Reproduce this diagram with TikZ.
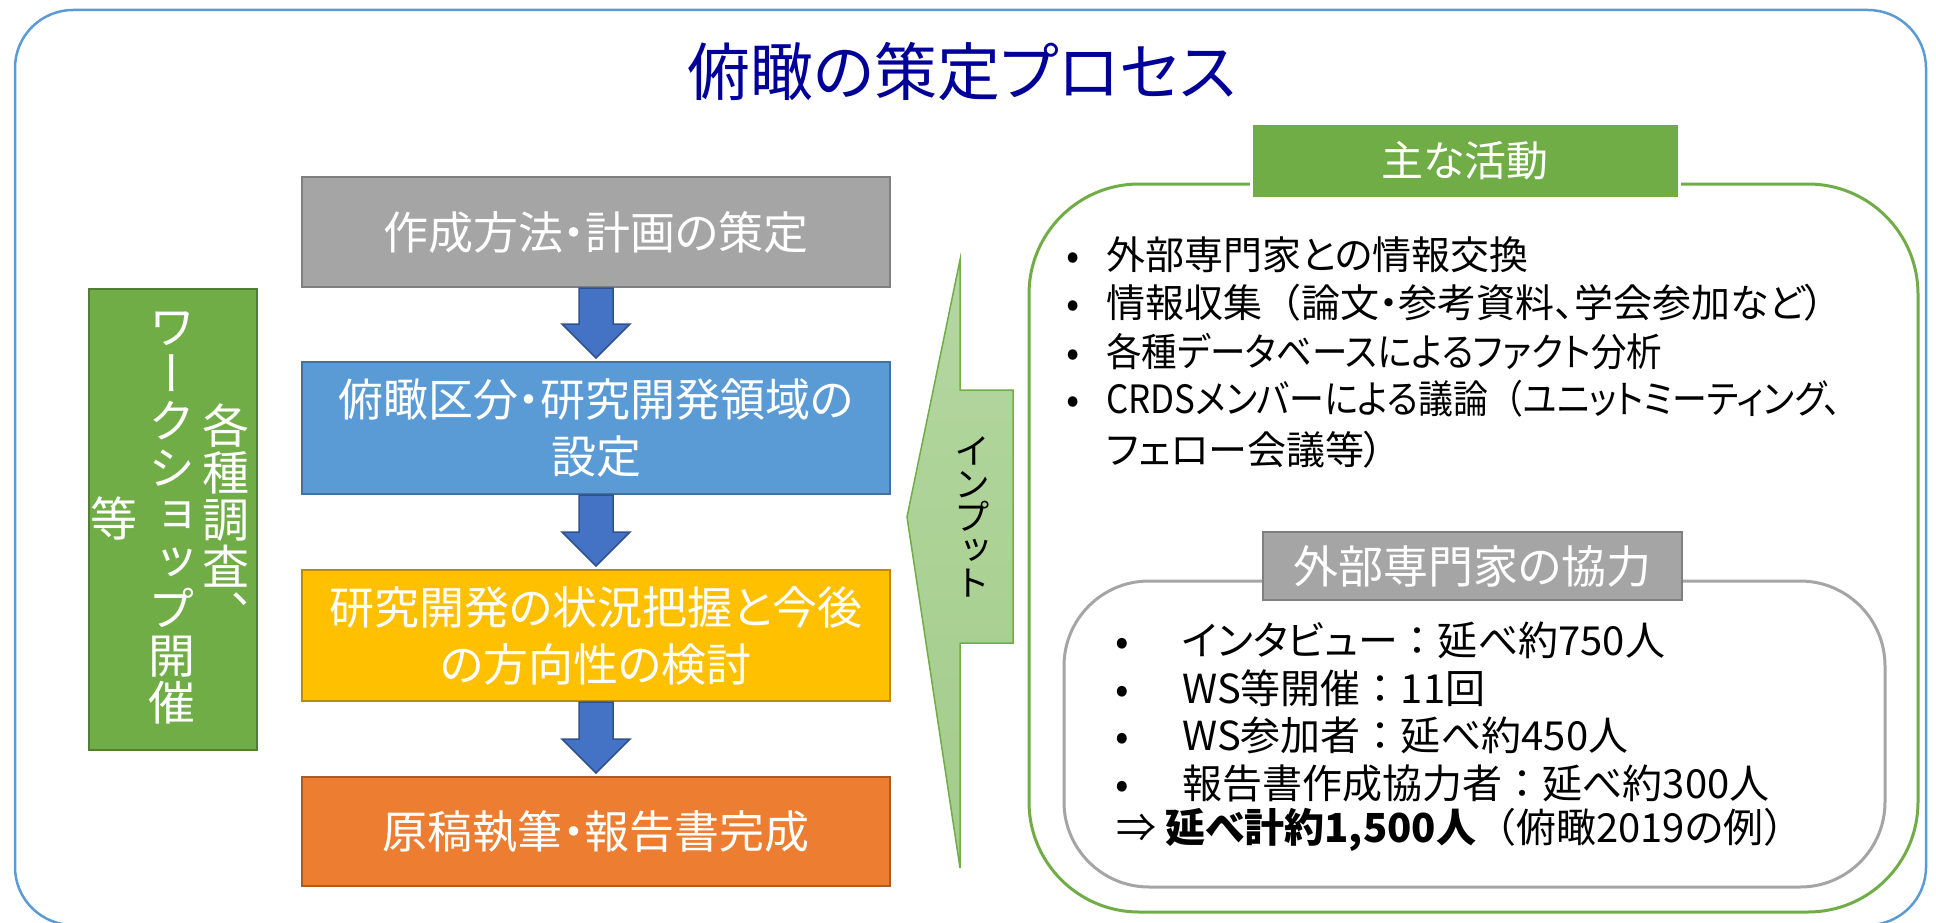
\documentclass[tikz,border=0pt]{standalone}
\usepackage{fontspec}
\usepackage{graphicx}
\setmainfont{Noto Sans CJK JP}[RawFeature=+palt]
\newfontfamily\jpv{Noto Sans CJK JP}[RawFeature=+vert]
\newfontfamily\jpf{Noto Sans CJK JP}
\usetikzlibrary{calc}
\definecolor{titleblue}{RGB}{0,0,153}
\definecolor{frameblue}{RGB}{91,155,213}
\definecolor{grayfill}{RGB}{165,165,165}
\definecolor{grayline}{RGB}{127,127,127}
\definecolor{bfill}{RGB}{91,155,213}
\definecolor{bline}{RGB}{65,113,156}
\definecolor{yfill}{RGB}{255,192,0}
\definecolor{yline}{RGB}{188,140,0}
\definecolor{ofill}{RGB}{237,125,49}
\definecolor{oline}{RGB}{174,90,33}
\definecolor{arrowblue}{RGB}{68,114,196}
\definecolor{arrowline}{RGB}{47,82,143}
\definecolor{mgreen}{RGB}{112,173,71}
\definecolor{dgreen}{RGB}{80,126,50}
\definecolor{intop}{RGB}{180,215,160}
\definecolor{inbot}{RGB}{163,204,139}
\protected\def\vfix{\lineskiplimit=-50pt\relax}
\newcommand\dotat[1]{\llap{\makebox[0pt]{•}\hspace{#1}}}
\newcommand\flowarrow[2]{%
  \path[barrow] let \p1=(#1.south), \p2=(#2.north) in
   (\x1-17pt,\y1) -- (\x1+17pt,\y1) -- (\x1+17pt,\y2+37pt) -- (\x1+34pt,\y2+37pt)
   -- (\x1,\y2+3pt) -- (\x1-34pt,\y2+37pt) -- (\x1-17pt,\y2+37pt) -- cycle;}
\tikzset{
  flowbox/.style={draw, line width=2pt, minimum width=588pt, text=white, align=center,
    inner sep=0pt, font=\fontsize{45}{57}\selectfont},
  barrow/.style={fill=arrowblue, draw=arrowline, line width=1.5pt, line join=miter},
  vt/.style={inner sep=0pt, align=center, text=white,
    font=\jpv\fontsize{47}{47}\selectfont\vfix},
  li/.style={inner sep=0pt, anchor=west, font=\fontsize{39}{45}\selectfont},
  lg/.style={inner sep=0pt, anchor=west, font=\fontsize{40}{45}\selectfont},
  tagbox/.style={text=white, inner sep=0pt},
}
\begin{document}
\begin{tikzpicture}[x=1pt,y=-1pt]
\useasboundingbox (0,0) rectangle (1936,923);
\fill[white] (0,0) rectangle (1936,923);
\draw[frameblue, line width=2.5pt, rounded corners=58pt] (15,10) rectangle (1926,925);

\node[font=\fontsize{63}{70}\selectfont, text=titleblue, inner sep=0pt] (title) at (962,72) {俯瞰の策定プロセス};

% flow
\node[flowbox, fill=grayfill, draw=grayline, minimum height=110pt] (s1) at (596,232) {作成方法・計画の策定};
\node[flowbox, fill=bfill, draw=bline, minimum height=132pt] (s2) at (596,428) {俯瞰区分・研究開発領域の\\設定};
\node[flowbox, fill=yfill, draw=yline, minimum height=131pt] (s3) at (596,635.5) {研究開発の状況把握と今後\\の方向性の検討};
\node[flowbox, fill=ofill, draw=oline, minimum height=109pt] (s4) at (596,831.5) {原稿執筆・報告書完成};
\flowarrow{s1}{s2}
\flowarrow{s2}{s3}
\flowarrow{s3}{s4}

% left green box
\node[fill=mgreen, draw=dgreen, line width=2pt, minimum width=168pt, minimum height=461pt] (ws) at (173,519.5) {};
\node[vt] (wc1) at (226,518) {各\\種\\調\\査\\、};
\node[vt] (wc2) at (172,518) {ワ\\ー\\ク\\シ\\ョ\\ッ\\プ\\開\\催};
\node[vt] (wc3) at (114,518) {等};

% input callout
\path[draw=mgreen, line width=1.5pt, top color=intop, bottom color=inbot]
  (960,260) -- (960,390) -- (1013,390) -- (1013,643) -- (960,643) -- (960,868) -- (907,517) -- cycle;
\node[inner sep=0pt, align=center, font=\jpv\fontsize{36}{33}\selectfont\vfix] (inp) at (972,517) {イ\\ン\\プ\\ッ\\ト};

% main activities
\draw[mgreen, line width=3pt, rounded corners=110pt] (1029,184) rectangle (1918,912);
\node[tagbox, fill=mgreen, draw=white, line width=3pt, minimum width=428pt, minimum height=74pt,
  font=\fontsize{42}{50}\selectfont] (act) at (1465,161) {主な活動};
\node[li] (a1) at (1106,255) {\dotat{33pt}外部専門家との情報交換};
\node[li] (a2) at (1106,303) {\dotat{33pt}情報収集{\jpf（}論文・参考資料、学会参加など）};
\node[li] (a3) at (1106,352) {\dotat{33pt}\scalebox{0.91}[1]{各種データベースによるファクト分析}};
\node[li] (a4) at (1106,399) {\dotat{33pt}\scalebox{0.895}[1]{CRDSメンバーによる議論{\jpf（}ユニットミーティング、}};
\node[li] (a5) at (1106,450) {フェロー会議等）};

% cooperation
\draw[grayfill, line width=3pt, rounded corners=85pt] (1064,581) rectangle (1885,887);
\node[tagbox, fill=grayfill, draw=grayline, line width=2pt, minimum width=419pt, minimum height=68pt,
  font=\fontsize{45}{50}\selectfont] (coop) at (1472.5,566) {外部専門家の協力};
\node[lg] (c1) at (1182,640) {\dotat{60pt}インタビュー{\jpf：}延べ約750人};
\node[lg] (c2) at (1182,688) {\dotat{60pt}WS等開催{\jpf：}11回};
\node[lg] (c3) at (1182,735) {\dotat{60pt}WS参加者{\jpf：}延べ約450人};
\node[lg] (c4) at (1182,783) {\dotat{60pt}報告書作成協力者{\jpf：}延べ約300人};
\node[lg] (c5) at (1116,830) {⇒ \textbf{延べ計約1,500人}{\jpf（}俯瞰2019の例{\jpf）}};
\end{tikzpicture}
\end{document}
